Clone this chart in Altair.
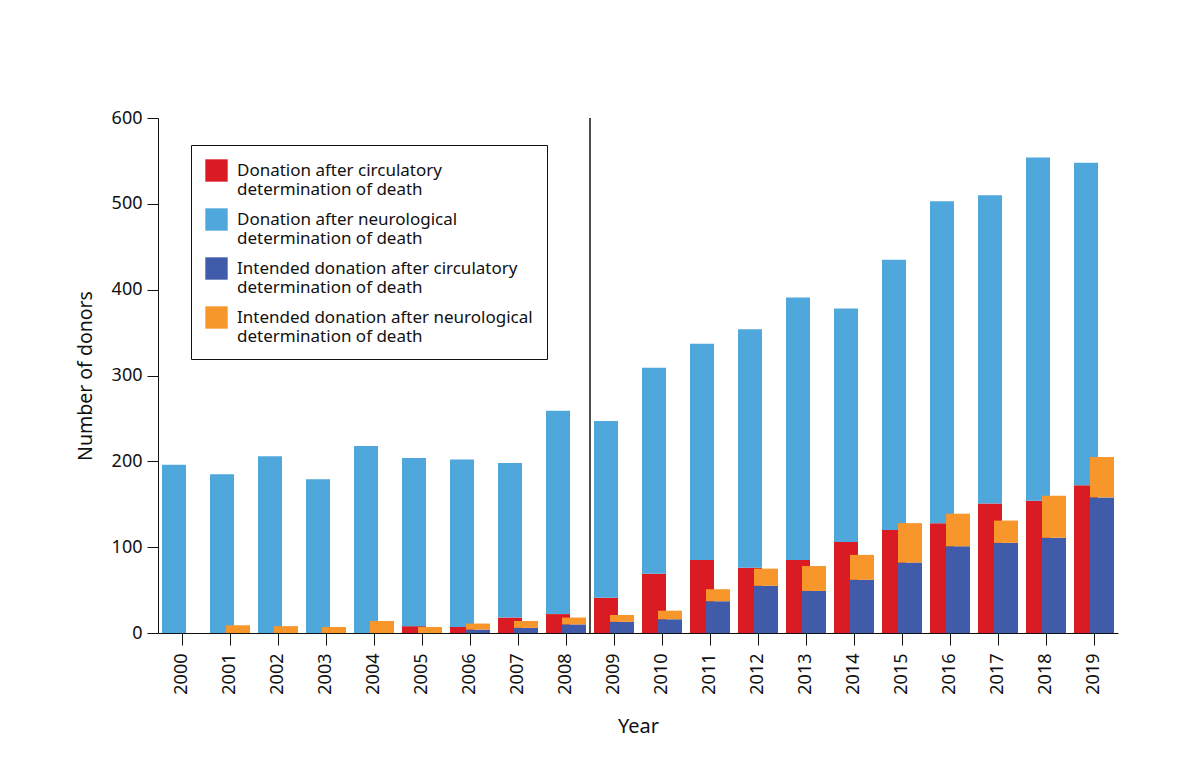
import altair as alt
import pandas as pd

years = list(range(2000, 2020))
# Left bar (actual donations)
dcdd = [0, 0, 0, 0, 0, 8, 7, 18, 22, 41, 69, 85, 76, 85, 106, 120, 128, 151, 154, 172]
actual_total = [196, 185, 206, 179, 218, 204, 202, 198, 259, 247, 309, 337, 354, 391, 378, 435, 503, 510, 554, 548]
dndd = [t - c for t, c in zip(actual_total, dcdd)]
# Right bar (intended donations)
intended_dcdd = [0, 0, 0, 0, 0, 0, 4, 6, 10, 13, 16, 37, 55, 49, 62, 82, 101, 105, 111, 158]
intended_total = [0, 9, 8, 7, 14, 7, 11, 14, 18, 21, 26, 51, 75, 78, 91, 128, 139, 131, 160, 205]
intended_dndd = [t - c for t, c in zip(intended_total, intended_dcdd)]

series_names = [
    "Donation after circulatory determination of death",
    "Donation after neurological determination of death",
    "Intended donation after circulatory determination of death",
    "Intended donation after neurological determination of death",
]
series_colors = ["#DA1B23", "#4FA7DB", "#3F5BA9", "#F7962B"]

rows = []
for i, y in enumerate(years):
    rows.append({"year": y, "series": series_names[0], "value": dcdd[i], "group": "actual", "ord": 0})
    rows.append({"year": y, "series": series_names[1], "value": dndd[i], "group": "actual", "ord": 1})
    rows.append({"year": y, "series": series_names[2], "value": intended_dcdd[i], "group": "intended", "ord": 0})
    rows.append({"year": y, "series": series_names[3], "value": intended_dndd[i], "group": "intended", "ord": 1})
df = pd.DataFrame(rows)

FONT = "Noto Sans"

x_enc = alt.X(
    "year:O",
    scale=alt.Scale(paddingInner=0, paddingOuter=0),
    axis=alt.Axis(
        title="Year",
        labelAngle=270,
        labelFontSize=18,
        labelColor="#111",
        labelPadding=8,
        tickSize=12,
        tickColor="#111",
        domainColor="#111",
        titleFontSize=20,
        titleFontWeight="normal",
        titlePadding=22,
        titleColor="#111",
    ),
)
y_enc = alt.Y(
    "value:Q",
    stack="zero",
    scale=alt.Scale(domain=[0, 600], nice=False),
    axis=alt.Axis(
        title="Number of donors",
        values=[0, 100, 200, 300, 400, 500, 600],
        grid=False,
        labelFontSize=18,
        labelColor="#111",
        labelPadding=5,
        tickSize=11,
        tickColor="#111",
        domainColor="#111",
        titleFontSize=19.5,
        titleFontWeight="normal",
        titlePadding=16,
        titleColor="#111",
    ),
)
color_enc = alt.Color(
    "series:N",
    scale=alt.Scale(domain=series_names, range=series_colors),
    legend=alt.Legend(
        title=None,
        orient="none",
        legendX=33,
        legendY=27,
        symbolType="square",
        symbolSize=500,
        symbolStrokeWidth=0,
        symbolOpacity=1,
        labelFontSize=17,
        labelLimit=400,
        labelOffset=9,
        labelColor="#111",
        labelExpr="split(replace(datum.label, ' determination', '|determination'), '|')",
        rowPadding=10,
        padding=14,
        strokeColor="#111",
        fillColor="white",
    ),
)

base = alt.Chart(df)
left = base.transform_filter(alt.datum.group == "actual").mark_bar(width=24, xOffset=-8).encode(
    x=x_enc, y=y_enc, color=color_enc, order=alt.Order("ord:Q")
)
right = base.transform_filter(alt.datum.group == "intended").mark_bar(width=24, xOffset=8).encode(
    x=x_enc, y=y_enc, color=color_enc, order=alt.Order("ord:Q")
)

divider_df = pd.DataFrame({"year": [2009], "lo": [0], "hi": [600]})
divider = alt.Chart(divider_df).mark_rule(color="#111", strokeWidth=1.5).encode(
    x=alt.X("year:O", bandPosition=0),
    y=alt.Y("lo:Q"),
    y2="hi:Q",
)

chart = (
    alt.layer(left, right, divider)
    .properties(width=960, height=515, padding={"left": 67, "top": 101, "right": 5, "bottom": 5})
    .configure(font=FONT)
    .configure_view(stroke=None)
)

chart.save("out.html", embed_options={"renderer": "svg", "actions": False})
